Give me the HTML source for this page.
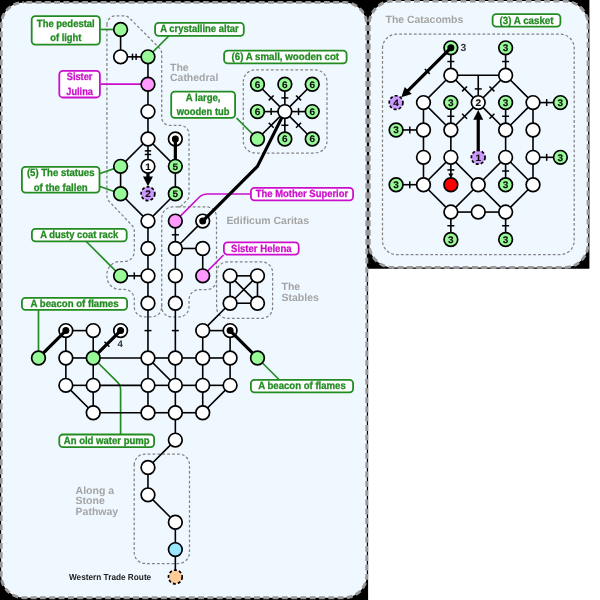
<!DOCTYPE html>
<html lang="en"><head><meta charset="utf-8"><title>Cathedral map</title>
<style>
html,body{margin:0;padding:0;background:#fff;}
body{width:600px;height:600px;overflow:hidden;}
svg{display:block;will-change:transform;}
</style></head><body>
<svg width="600" height="600" viewBox="0 0 600 600" text-rendering="geometricPrecision" font-family="'Liberation Sans', sans-serif">
<defs><filter id="soft" x="-5%" y="-5%" width="110%" height="110%"><feGaussianBlur stdDeviation="0.35"/></filter></defs>
<g filter="url(#soft)">
<rect x="-12" y="-12" width="624" height="624" fill="#fff"/>
<path d="M-12 -12H589.4V268.8H368.1V612H-12Z" fill="#000"/>
<rect x="1.15" y="2.4" width="365.65" height="595.3" rx="22.5" fill="#f0f8ff" stroke="#999999" stroke-width="2.9" stroke-dasharray="5.8 3.5" stroke-dashoffset="6.61"/>
<rect x="369.2" y="1.1" width="218.9" height="266.4" rx="23.5" fill="#f0f8ff" stroke="#999999" stroke-width="2.9" stroke-dasharray="5.8 3.5" stroke-dashoffset="6.56"/>
<path d="M106.9 24.8A9 9 0 0 1 115.9 15.8L123.89 15.8A8 8 0 0 1 129.54 18.14L159.36 47.96A8 8 0 0 1 161.7 53.61L161.7 117.3A8 8 0 0 0 169.7 125.3L180 125.3A9 9 0 0 1 189 134.3L189 195.98A5 5 0 0 1 187.6 199.45L181.68 205.58A4 4 0 0 1 178.8 206.8L173.2 206.8A11.5 11.5 0 0 0 161.7 218.3L161.7 306.9A10 10 0 0 1 151.7 316.9L144.3 316.9A10 10 0 0 1 134.3 306.9L134.3 299.4A10 10 0 0 0 124.3 289.4L119.9 289.4A13 13 0 0 1 106.9 276.4L106.9 274.5A13 13 0 0 1 119.9 261.5L124.3 261.5A10 10 0 0 0 134.3 251.5L134.3 231A8 8 0 0 0 132.1 225.48L109.1 201.32A8 8 0 0 1 106.9 195.8Z" fill="none" stroke="#828282" stroke-width="1.25" stroke-dasharray="2.8 2.1"/>
<path d="M178 206.8L206.5 206.8A10 10 0 0 1 216.5 216.8L216.5 279.7A10 10 0 0 1 206.5 289.7L199 289.7A10 10 0 0 0 189 299.7L189 306.9A10 10 0 0 1 179 316.9L171.7 316.9A10 10 0 0 1 161.7 306.9L161.7 304" fill="none" stroke="#828282" stroke-width="1.25" stroke-dasharray="2.8 2.1"/>
<path d="M243.3 81.8A12 12 0 0 1 255.3 69.8L315 69.8A12 12 0 0 1 327 81.8L327 141A12 12 0 0 1 315 153L255.3 153A12 12 0 0 1 243.3 141Z" fill="none" stroke="#828282" stroke-width="1.25" stroke-dasharray="2.8 2.1"/>
<path d="M216.6 272.8A11 11 0 0 1 227.6 261.8L261.6 261.8A11 11 0 0 1 272.6 272.8L272.6 307.4A11 11 0 0 1 261.6 318.4L227.6 318.4A11 11 0 0 1 216.6 307.4Z" fill="none" stroke="#828282" stroke-width="1.25" stroke-dasharray="2.8 2.1"/>
<path d="M134.2 465A11 11 0 0 1 145.2 454L178.5 454A11 11 0 0 1 189.5 465L189.5 552.5A11 11 0 0 1 178.5 563.5L145.2 563.5A11 11 0 0 1 134.2 552.5Z" fill="none" stroke="#828282" stroke-width="1.25" stroke-dasharray="2.8 2.1"/>
<path d="M382.5 48.2A14 14 0 0 1 396.5 34.2L560.2 34.2A14 14 0 0 1 574.2 48.2L574.2 240.6A14 14 0 0 1 560.2 254.6L396.5 254.6A14 14 0 0 1 382.5 240.6Z" fill="none" stroke="#828282" stroke-width="1.25" stroke-dasharray="2.8 2.1"/>
<text x="170" y="70.8" font-size="10.5" font-weight="bold" fill="#a4a4a4" text-anchor="start">The</text>
<text x="170" y="81.3" font-size="10.5" font-weight="bold" fill="#a4a4a4" text-anchor="start" textLength="48.3" lengthAdjust="spacingAndGlyphs">Cathedral</text>
<text x="226.4" y="223.6" font-size="10.5" font-weight="bold" fill="#a4a4a4" text-anchor="start" textLength="82.6" lengthAdjust="spacingAndGlyphs">Edificum Caritas</text>
<text x="281.5" y="290.2" font-size="10.5" font-weight="bold" fill="#a4a4a4" text-anchor="start">The</text>
<text x="281.5" y="300.9" font-size="10.5" font-weight="bold" fill="#a4a4a4" text-anchor="start">Stables</text>
<text x="75.6" y="493.6" font-size="10.5" font-weight="bold" fill="#a4a4a4" text-anchor="start">Along a</text>
<text x="75.6" y="504.4" font-size="10.5" font-weight="bold" fill="#a4a4a4" text-anchor="start">Stone</text>
<text x="75.6" y="515" font-size="10.5" font-weight="bold" fill="#a4a4a4" text-anchor="start">Pathway</text>
<text x="385.5" y="22.5" font-size="10.5" font-weight="bold" fill="#a4a4a4" text-anchor="start" textLength="77.8" lengthAdjust="spacingAndGlyphs">The Catacombs</text>
<path d="M100.8 29.48L120.6 29.48" fill="none" stroke="#228b22" stroke-width="1.7"/>
<path d="M100.8 84.22L147.97 84.22" fill="none" stroke="#cc11cc" stroke-width="1.7"/>
<path d="M168.82 36L147.97 56.85" fill="none" stroke="#228b22" stroke-width="1.7"/>
<path d="M236.5 118L257.48 138.97" fill="none" stroke="#228b22" stroke-width="1.7"/>
<path d="M100 173.5L120.6 166.35" fill="none" stroke="#228b22" stroke-width="1.7"/>
<path d="M100 186.5L120.6 193.72" fill="none" stroke="#228b22" stroke-width="1.7"/>
<path d="M86.25 241.5L120.6 275.85" fill="none" stroke="#228b22" stroke-width="1.7"/>
<path d="M38.48 310L38.48 357.98" fill="none" stroke="#228b22" stroke-width="1.7"/>
<path d="M93.22 357.98L117.96 382.71A9 9 0 0 1 120.6 389.08L120.6 434" fill="none" stroke="#228b22" stroke-width="1.7"/>
<path d="M251 194L207.42 194A12 12 0 0 0 198.94 197.51L175.35 221.1" fill="none" stroke="#cc11cc" stroke-width="1.7"/>
<path d="M223.58 255L202.72 275.85" fill="none" stroke="#cc11cc" stroke-width="1.7"/>
<path d="M279 379.5L257.48 357.98" fill="none" stroke="#228b22" stroke-width="1.7"/>
<line x1="120.6" y1="29.48" x2="120.6" y2="56.85" stroke="#000" stroke-width="1.6" stroke-linecap="butt"/>
<line x1="120.6" y1="56.85" x2="147.97" y2="56.85" stroke="#000" stroke-width="1.6" stroke-linecap="butt"/>
<line x1="132.49" y1="53.65" x2="132.49" y2="60.05" stroke="#000" stroke-width="1.5" stroke-linecap="butt"/>
<line x1="136.09" y1="53.65" x2="136.09" y2="60.05" stroke="#000" stroke-width="1.5" stroke-linecap="butt"/>
<line x1="147.97" y1="56.85" x2="147.97" y2="84.22" stroke="#000" stroke-width="1.6" stroke-linecap="butt"/>
<line x1="147.97" y1="84.22" x2="147.97" y2="111.6" stroke="#000" stroke-width="1.6" stroke-linecap="butt"/>
<line x1="147.97" y1="111.6" x2="147.97" y2="138.97" stroke="#000" stroke-width="1.6" stroke-linecap="butt"/>
<line x1="120.6" y1="166.35" x2="147.97" y2="138.97" stroke="#000" stroke-width="1.6" stroke-linecap="butt"/>
<line x1="147.97" y1="138.97" x2="175.35" y2="166.35" stroke="#000" stroke-width="1.6" stroke-linecap="butt"/>
<line x1="147.97" y1="138.97" x2="147.97" y2="166.35" stroke="#000" stroke-width="1.6" stroke-linecap="butt"/>
<line x1="151.17" y1="150.86" x2="144.78" y2="150.86" stroke="#000" stroke-width="1.5" stroke-linecap="butt"/>
<line x1="151.17" y1="154.46" x2="144.78" y2="154.46" stroke="#000" stroke-width="1.5" stroke-linecap="butt"/>
<line x1="120.6" y1="166.35" x2="120.6" y2="193.72" stroke="#000" stroke-width="1.6" stroke-linecap="butt"/>
<line x1="120.6" y1="193.72" x2="147.97" y2="221.1" stroke="#000" stroke-width="1.6" stroke-linecap="butt"/>
<line x1="147.97" y1="221.1" x2="175.35" y2="193.72" stroke="#000" stroke-width="1.6" stroke-linecap="butt"/>
<line x1="175.35" y1="193.72" x2="175.35" y2="166.35" stroke="#000" stroke-width="1.6" stroke-linecap="butt"/>
<line x1="147.97" y1="221.1" x2="147.97" y2="248.47" stroke="#000" stroke-width="1.6" stroke-linecap="butt"/>
<line x1="147.97" y1="248.47" x2="147.97" y2="275.85" stroke="#000" stroke-width="1.6" stroke-linecap="butt"/>
<line x1="147.97" y1="275.85" x2="147.97" y2="303.23" stroke="#000" stroke-width="1.6" stroke-linecap="butt"/>
<line x1="120.6" y1="275.85" x2="147.97" y2="275.85" stroke="#000" stroke-width="1.6" stroke-linecap="butt"/>
<line x1="134.29" y1="272.35" x2="134.29" y2="279.35" stroke="#000" stroke-width="1.5" stroke-linecap="butt"/>
<line x1="147.97" y1="303.23" x2="147.97" y2="357.98" stroke="#000" stroke-width="1.6" stroke-linecap="butt"/>
<line x1="151.47" y1="330.6" x2="144.47" y2="330.6" stroke="#000" stroke-width="1.5" stroke-linecap="butt"/>
<line x1="175.35" y1="221.1" x2="175.35" y2="248.47" stroke="#000" stroke-width="1.6" stroke-linecap="butt"/>
<line x1="178.85" y1="234.79" x2="171.85" y2="234.79" stroke="#000" stroke-width="1.5" stroke-linecap="butt"/>
<line x1="202.72" y1="221.1" x2="175.35" y2="248.47" stroke="#000" stroke-width="1.6" stroke-linecap="butt"/>
<line x1="175.35" y1="248.47" x2="202.72" y2="248.47" stroke="#000" stroke-width="1.6" stroke-linecap="butt"/>
<line x1="202.72" y1="248.47" x2="202.72" y2="275.85" stroke="#000" stroke-width="1.6" stroke-linecap="butt"/>
<line x1="175.35" y1="248.47" x2="175.35" y2="275.85" stroke="#000" stroke-width="1.6" stroke-linecap="butt"/>
<line x1="175.35" y1="275.85" x2="175.35" y2="303.23" stroke="#000" stroke-width="1.6" stroke-linecap="butt"/>
<line x1="175.35" y1="303.23" x2="175.35" y2="357.98" stroke="#000" stroke-width="1.6" stroke-linecap="butt"/>
<line x1="178.85" y1="330.6" x2="171.85" y2="330.6" stroke="#000" stroke-width="1.5" stroke-linecap="butt"/>
<line x1="284.85" y1="111.6" x2="257.48" y2="84.22" stroke="#000" stroke-width="1.6" stroke-linecap="butt"/>
<line x1="268.69" y1="100.39" x2="273.64" y2="95.44" stroke="#000" stroke-width="1.5" stroke-linecap="butt"/>
<line x1="284.85" y1="111.6" x2="284.85" y2="84.22" stroke="#000" stroke-width="1.6" stroke-linecap="butt"/>
<line x1="281.35" y1="97.91" x2="288.35" y2="97.91" stroke="#000" stroke-width="1.5" stroke-linecap="butt"/>
<line x1="284.85" y1="111.6" x2="312.23" y2="84.22" stroke="#000" stroke-width="1.6" stroke-linecap="butt"/>
<line x1="296.06" y1="95.44" x2="301.01" y2="100.39" stroke="#000" stroke-width="1.5" stroke-linecap="butt"/>
<line x1="284.85" y1="111.6" x2="257.48" y2="111.6" stroke="#000" stroke-width="1.6" stroke-linecap="butt"/>
<line x1="271.16" y1="115.1" x2="271.16" y2="108.1" stroke="#000" stroke-width="1.5" stroke-linecap="butt"/>
<line x1="284.85" y1="111.6" x2="312.23" y2="111.6" stroke="#000" stroke-width="1.6" stroke-linecap="butt"/>
<line x1="298.54" y1="108.1" x2="298.54" y2="115.1" stroke="#000" stroke-width="1.5" stroke-linecap="butt"/>
<line x1="284.85" y1="111.6" x2="257.48" y2="138.97" stroke="#000" stroke-width="1.6" stroke-linecap="butt"/>
<line x1="273.64" y1="127.76" x2="268.69" y2="122.81" stroke="#000" stroke-width="1.5" stroke-linecap="butt"/>
<line x1="284.85" y1="111.6" x2="284.85" y2="138.97" stroke="#000" stroke-width="1.6" stroke-linecap="butt"/>
<line x1="288.35" y1="125.29" x2="281.35" y2="125.29" stroke="#000" stroke-width="1.5" stroke-linecap="butt"/>
<line x1="284.85" y1="111.6" x2="312.23" y2="138.97" stroke="#000" stroke-width="1.6" stroke-linecap="butt"/>
<line x1="301.01" y1="122.81" x2="296.06" y2="127.76" stroke="#000" stroke-width="1.5" stroke-linecap="butt"/>
<line x1="230.1" y1="275.85" x2="257.48" y2="275.85" stroke="#000" stroke-width="1.6" stroke-linecap="butt"/>
<line x1="257.48" y1="275.85" x2="257.48" y2="303.23" stroke="#000" stroke-width="1.6" stroke-linecap="butt"/>
<line x1="257.48" y1="303.23" x2="230.1" y2="303.23" stroke="#000" stroke-width="1.6" stroke-linecap="butt"/>
<line x1="230.1" y1="303.23" x2="230.1" y2="275.85" stroke="#000" stroke-width="1.6" stroke-linecap="butt"/>
<line x1="230.1" y1="275.85" x2="257.48" y2="303.23" stroke="#000" stroke-width="1.6" stroke-linecap="butt"/>
<line x1="257.48" y1="275.85" x2="230.1" y2="303.23" stroke="#000" stroke-width="1.6" stroke-linecap="butt"/>
<line x1="230.1" y1="303.23" x2="202.72" y2="330.6" stroke="#000" stroke-width="1.6" stroke-linecap="butt"/>
<line x1="65.85" y1="330.6" x2="93.22" y2="330.6" stroke="#000" stroke-width="1.6" stroke-linecap="butt"/>
<line x1="93.22" y1="330.6" x2="93.22" y2="357.98" stroke="#000" stroke-width="1.6" stroke-linecap="butt"/>
<line x1="93.22" y1="357.98" x2="93.22" y2="385.35" stroke="#000" stroke-width="1.6" stroke-linecap="butt"/>
<line x1="93.22" y1="385.35" x2="93.22" y2="412.73" stroke="#000" stroke-width="1.6" stroke-linecap="butt"/>
<line x1="93.22" y1="412.73" x2="147.97" y2="412.73" stroke="#000" stroke-width="1.6" stroke-linecap="butt"/>
<line x1="147.97" y1="412.73" x2="175.35" y2="412.73" stroke="#000" stroke-width="1.6" stroke-linecap="butt"/>
<line x1="175.35" y1="412.73" x2="202.72" y2="412.73" stroke="#000" stroke-width="1.6" stroke-linecap="butt"/>
<line x1="65.85" y1="330.6" x2="65.85" y2="357.98" stroke="#000" stroke-width="1.6" stroke-linecap="butt"/>
<line x1="65.85" y1="357.98" x2="65.85" y2="385.35" stroke="#000" stroke-width="1.6" stroke-linecap="butt"/>
<line x1="65.85" y1="385.35" x2="93.22" y2="412.73" stroke="#000" stroke-width="1.6" stroke-linecap="butt"/>
<line x1="65.85" y1="357.98" x2="93.22" y2="357.98" stroke="#000" stroke-width="1.6" stroke-linecap="butt"/>
<line x1="93.22" y1="357.98" x2="147.97" y2="357.98" stroke="#000" stroke-width="1.6" stroke-linecap="butt"/>
<line x1="147.97" y1="357.98" x2="175.35" y2="357.98" stroke="#000" stroke-width="1.6" stroke-linecap="butt"/>
<line x1="175.35" y1="357.98" x2="202.72" y2="357.98" stroke="#000" stroke-width="1.6" stroke-linecap="butt"/>
<line x1="202.72" y1="357.98" x2="230.1" y2="357.98" stroke="#000" stroke-width="1.6" stroke-linecap="butt"/>
<line x1="65.85" y1="385.35" x2="93.22" y2="385.35" stroke="#000" stroke-width="1.6" stroke-linecap="butt"/>
<line x1="93.22" y1="385.35" x2="147.97" y2="385.35" stroke="#000" stroke-width="1.6" stroke-linecap="butt"/>
<line x1="147.97" y1="385.35" x2="175.35" y2="385.35" stroke="#000" stroke-width="1.6" stroke-linecap="butt"/>
<line x1="175.35" y1="385.35" x2="202.72" y2="385.35" stroke="#000" stroke-width="1.6" stroke-linecap="butt"/>
<line x1="202.72" y1="385.35" x2="230.1" y2="385.35" stroke="#000" stroke-width="1.6" stroke-linecap="butt"/>
<line x1="147.97" y1="357.98" x2="147.97" y2="385.35" stroke="#000" stroke-width="1.6" stroke-linecap="butt"/>
<line x1="147.97" y1="385.35" x2="147.97" y2="412.73" stroke="#000" stroke-width="1.6" stroke-linecap="butt"/>
<line x1="175.35" y1="357.98" x2="175.35" y2="385.35" stroke="#000" stroke-width="1.6" stroke-linecap="butt"/>
<line x1="175.35" y1="385.35" x2="175.35" y2="412.73" stroke="#000" stroke-width="1.6" stroke-linecap="butt"/>
<line x1="175.35" y1="412.73" x2="175.35" y2="440.1" stroke="#000" stroke-width="1.6" stroke-linecap="butt"/>
<line x1="175.35" y1="440.1" x2="147.97" y2="467.48" stroke="#000" stroke-width="1.6" stroke-linecap="butt"/>
<line x1="147.97" y1="467.48" x2="147.97" y2="494.85" stroke="#000" stroke-width="1.6" stroke-linecap="butt"/>
<line x1="147.97" y1="494.85" x2="175.35" y2="522.23" stroke="#000" stroke-width="1.6" stroke-linecap="butt"/>
<line x1="175.35" y1="522.23" x2="175.35" y2="549.6" stroke="#000" stroke-width="1.6" stroke-linecap="butt"/>
<line x1="175.35" y1="549.6" x2="175.35" y2="576.98" stroke="#000" stroke-width="1.6" stroke-linecap="butt"/>
<line x1="202.72" y1="330.6" x2="202.72" y2="357.98" stroke="#000" stroke-width="1.6" stroke-linecap="butt"/>
<line x1="202.72" y1="357.98" x2="202.72" y2="385.35" stroke="#000" stroke-width="1.6" stroke-linecap="butt"/>
<line x1="202.72" y1="385.35" x2="202.72" y2="412.73" stroke="#000" stroke-width="1.6" stroke-linecap="butt"/>
<line x1="202.72" y1="330.6" x2="230.1" y2="330.6" stroke="#000" stroke-width="1.6" stroke-linecap="butt"/>
<line x1="230.1" y1="330.6" x2="230.1" y2="357.98" stroke="#000" stroke-width="1.6" stroke-linecap="butt"/>
<line x1="230.1" y1="357.98" x2="230.1" y2="385.35" stroke="#000" stroke-width="1.6" stroke-linecap="butt"/>
<line x1="230.1" y1="385.35" x2="202.72" y2="412.73" stroke="#000" stroke-width="1.6" stroke-linecap="butt"/>
<line x1="147.97" y1="357.98" x2="175.35" y2="385.35" stroke="#000" stroke-width="1.6" stroke-linecap="butt"/>
<line x1="175.35" y1="138.97" x2="175.35" y2="166.35" stroke="#000" stroke-width="3.2" stroke-linecap="butt"/>
<line x1="38.48" y1="357.98" x2="65.85" y2="330.6" stroke="#000" stroke-width="3.2" stroke-linecap="butt"/>
<line x1="93.22" y1="357.98" x2="120.6" y2="330.6" stroke="#000" stroke-width="3.2" stroke-linecap="butt"/>
<line x1="104.44" y1="341.81" x2="109.39" y2="346.76" stroke="#000" stroke-width="1.5" stroke-linecap="butt"/>
<line x1="230.1" y1="330.6" x2="257.48" y2="357.98" stroke="#000" stroke-width="3.2" stroke-linecap="butt"/>
<path d="M202.72 221.1L257.13 166.69A3 3 0 0 0 257.69 165.91L284.85 111.6" fill="none" stroke="#000" stroke-width="3.2"/>
<line x1="147.97" y1="166.35" x2="147.97" y2="177.52" stroke="#000" stroke-width="3.2" stroke-linecap="butt"/>
<polygon points="147.97,186.32 142.97,176.52 152.97,176.52" fill="#000"/>
<circle cx="120.6" cy="29.48" r="6.85" fill="#98fb98" stroke="#000" stroke-width="1.7"/>
<circle cx="147.97" cy="56.85" r="6.85" fill="#98fb98" stroke="#000" stroke-width="1.7"/>
<circle cx="120.6" cy="166.35" r="6.85" fill="#98fb98" stroke="#000" stroke-width="1.7"/>
<circle cx="120.6" cy="193.72" r="6.85" fill="#98fb98" stroke="#000" stroke-width="1.7"/>
<circle cx="120.6" cy="275.85" r="6.85" fill="#98fb98" stroke="#000" stroke-width="1.7"/>
<circle cx="38.48" cy="357.98" r="6.85" fill="#98fb98" stroke="#000" stroke-width="1.7"/>
<circle cx="93.22" cy="357.98" r="6.85" fill="#98fb98" stroke="#000" stroke-width="1.7"/>
<circle cx="257.48" cy="357.98" r="6.85" fill="#98fb98" stroke="#000" stroke-width="1.7"/>
<circle cx="257.48" cy="138.97" r="6.85" fill="#98fb98" stroke="#000" stroke-width="1.7"/>
<circle cx="175.35" cy="166.35" r="6.85" fill="#98fb98" stroke="#000" stroke-width="1.7"/>
<text transform="translate(175.35 169.7) scale(1.06 1)" font-size="9.5" font-weight="bold" fill="#111" stroke="#111" stroke-width="0.15" text-anchor="middle">5</text>
<circle cx="175.35" cy="193.72" r="6.85" fill="#98fb98" stroke="#000" stroke-width="1.7"/>
<text transform="translate(175.35 197.07) scale(1.06 1)" font-size="9.5" font-weight="bold" fill="#111" stroke="#111" stroke-width="0.15" text-anchor="middle">5</text>
<circle cx="257.48" cy="84.22" r="6.85" fill="#98fb98" stroke="#000" stroke-width="1.7"/>
<text transform="translate(257.48 87.57) scale(1.06 1)" font-size="9.5" font-weight="bold" fill="#111" stroke="#111" stroke-width="0.15" text-anchor="middle">6</text>
<circle cx="284.85" cy="84.22" r="6.85" fill="#98fb98" stroke="#000" stroke-width="1.7"/>
<text transform="translate(284.85 87.57) scale(1.06 1)" font-size="9.5" font-weight="bold" fill="#111" stroke="#111" stroke-width="0.15" text-anchor="middle">6</text>
<circle cx="312.23" cy="84.22" r="6.85" fill="#98fb98" stroke="#000" stroke-width="1.7"/>
<text transform="translate(312.23 87.57) scale(1.06 1)" font-size="9.5" font-weight="bold" fill="#111" stroke="#111" stroke-width="0.15" text-anchor="middle">6</text>
<circle cx="257.48" cy="111.6" r="6.85" fill="#98fb98" stroke="#000" stroke-width="1.7"/>
<text transform="translate(257.48 114.95) scale(1.06 1)" font-size="9.5" font-weight="bold" fill="#111" stroke="#111" stroke-width="0.15" text-anchor="middle">6</text>
<circle cx="312.23" cy="111.6" r="6.85" fill="#98fb98" stroke="#000" stroke-width="1.7"/>
<text transform="translate(312.23 114.95) scale(1.06 1)" font-size="9.5" font-weight="bold" fill="#111" stroke="#111" stroke-width="0.15" text-anchor="middle">6</text>
<circle cx="284.85" cy="138.97" r="6.85" fill="#98fb98" stroke="#000" stroke-width="1.7"/>
<text transform="translate(284.85 142.32) scale(1.06 1)" font-size="9.5" font-weight="bold" fill="#111" stroke="#111" stroke-width="0.15" text-anchor="middle">6</text>
<circle cx="312.23" cy="138.97" r="6.85" fill="#98fb98" stroke="#000" stroke-width="1.7"/>
<text transform="translate(312.23 142.32) scale(1.06 1)" font-size="9.5" font-weight="bold" fill="#111" stroke="#111" stroke-width="0.15" text-anchor="middle">6</text>
<circle cx="147.97" cy="84.22" r="6.85" fill="#ff99ff" stroke="#000" stroke-width="1.7"/>
<circle cx="175.35" cy="221.1" r="6.85" fill="#ff99ff" stroke="#000" stroke-width="1.7"/>
<circle cx="202.72" cy="275.85" r="6.85" fill="#ff99ff" stroke="#000" stroke-width="1.7"/>
<circle cx="120.6" cy="56.85" r="6.85" fill="#fff" stroke="#000" stroke-width="1.7"/>
<circle cx="147.97" cy="111.6" r="6.85" fill="#fff" stroke="#000" stroke-width="1.7"/>
<circle cx="147.97" cy="138.97" r="6.85" fill="#fff" stroke="#000" stroke-width="1.7"/>
<circle cx="147.97" cy="221.1" r="6.85" fill="#fff" stroke="#000" stroke-width="1.7"/>
<circle cx="147.97" cy="248.47" r="6.85" fill="#fff" stroke="#000" stroke-width="1.7"/>
<circle cx="147.97" cy="275.85" r="6.85" fill="#fff" stroke="#000" stroke-width="1.7"/>
<circle cx="147.97" cy="303.23" r="6.85" fill="#fff" stroke="#000" stroke-width="1.7"/>
<circle cx="175.35" cy="248.47" r="6.85" fill="#fff" stroke="#000" stroke-width="1.7"/>
<circle cx="202.72" cy="248.47" r="6.85" fill="#fff" stroke="#000" stroke-width="1.7"/>
<circle cx="175.35" cy="275.85" r="6.85" fill="#fff" stroke="#000" stroke-width="1.7"/>
<circle cx="175.35" cy="303.23" r="6.85" fill="#fff" stroke="#000" stroke-width="1.7"/>
<circle cx="284.85" cy="111.6" r="6.85" fill="#fff" stroke="#000" stroke-width="1.7"/>
<circle cx="230.1" cy="275.85" r="6.85" fill="#fff" stroke="#000" stroke-width="1.7"/>
<circle cx="257.48" cy="275.85" r="6.85" fill="#fff" stroke="#000" stroke-width="1.7"/>
<circle cx="230.1" cy="303.23" r="6.85" fill="#fff" stroke="#000" stroke-width="1.7"/>
<circle cx="257.48" cy="303.23" r="6.85" fill="#fff" stroke="#000" stroke-width="1.7"/>
<circle cx="93.22" cy="330.6" r="6.85" fill="#fff" stroke="#000" stroke-width="1.7"/>
<circle cx="65.85" cy="357.98" r="6.85" fill="#fff" stroke="#000" stroke-width="1.7"/>
<circle cx="65.85" cy="385.35" r="6.85" fill="#fff" stroke="#000" stroke-width="1.7"/>
<circle cx="93.22" cy="385.35" r="6.85" fill="#fff" stroke="#000" stroke-width="1.7"/>
<circle cx="93.22" cy="412.73" r="6.85" fill="#fff" stroke="#000" stroke-width="1.7"/>
<circle cx="147.97" cy="357.98" r="6.85" fill="#fff" stroke="#000" stroke-width="1.7"/>
<circle cx="147.97" cy="385.35" r="6.85" fill="#fff" stroke="#000" stroke-width="1.7"/>
<circle cx="147.97" cy="412.73" r="6.85" fill="#fff" stroke="#000" stroke-width="1.7"/>
<circle cx="175.35" cy="357.98" r="6.85" fill="#fff" stroke="#000" stroke-width="1.7"/>
<circle cx="175.35" cy="385.35" r="6.85" fill="#fff" stroke="#000" stroke-width="1.7"/>
<circle cx="175.35" cy="412.73" r="6.85" fill="#fff" stroke="#000" stroke-width="1.7"/>
<circle cx="175.35" cy="440.1" r="6.85" fill="#fff" stroke="#000" stroke-width="1.7"/>
<circle cx="202.72" cy="330.6" r="6.85" fill="#fff" stroke="#000" stroke-width="1.7"/>
<circle cx="202.72" cy="357.98" r="6.85" fill="#fff" stroke="#000" stroke-width="1.7"/>
<circle cx="202.72" cy="385.35" r="6.85" fill="#fff" stroke="#000" stroke-width="1.7"/>
<circle cx="202.72" cy="412.73" r="6.85" fill="#fff" stroke="#000" stroke-width="1.7"/>
<circle cx="230.1" cy="357.98" r="6.85" fill="#fff" stroke="#000" stroke-width="1.7"/>
<circle cx="230.1" cy="385.35" r="6.85" fill="#fff" stroke="#000" stroke-width="1.7"/>
<circle cx="147.97" cy="467.48" r="6.85" fill="#fff" stroke="#000" stroke-width="1.7"/>
<circle cx="147.97" cy="494.85" r="6.85" fill="#fff" stroke="#000" stroke-width="1.7"/>
<circle cx="175.35" cy="522.23" r="6.85" fill="#fff" stroke="#000" stroke-width="1.7"/>
<circle cx="147.97" cy="166.35" r="6.85" fill="#fff" stroke="#000" stroke-width="1.7"/>
<text transform="translate(147.97 169.7) scale(1.06 1)" font-size="9.5" font-weight="bold" fill="#111" stroke="#111" stroke-width="0.15" text-anchor="middle">1</text>
<circle cx="175.35" cy="138.97" r="6.85" fill="#fff" stroke="#000" stroke-width="1.7"/>
<circle cx="175.35" cy="138.97" r="3.5" fill="#000"/>
<circle cx="202.72" cy="221.1" r="6.85" fill="#fff" stroke="#000" stroke-width="1.7"/>
<circle cx="202.72" cy="221.1" r="3.5" fill="#000"/>
<circle cx="65.85" cy="330.6" r="6.85" fill="#fff" stroke="#000" stroke-width="1.7"/>
<circle cx="65.85" cy="330.6" r="3.5" fill="#000"/>
<circle cx="120.6" cy="330.6" r="6.85" fill="#fff" stroke="#000" stroke-width="1.7"/>
<circle cx="120.6" cy="330.6" r="3.5" fill="#000"/>
<circle cx="230.1" cy="330.6" r="6.85" fill="#fff" stroke="#000" stroke-width="1.7"/>
<circle cx="230.1" cy="330.6" r="3.5" fill="#000"/>
<line x1="175.35" y1="138.97" x2="175.35" y2="146.97" stroke="#000" stroke-width="3.2" stroke-linecap="butt"/>
<line x1="65.85" y1="330.6" x2="60.19" y2="336.26" stroke="#000" stroke-width="3.2" stroke-linecap="butt"/>
<line x1="120.6" y1="330.6" x2="114.94" y2="336.26" stroke="#000" stroke-width="3.2" stroke-linecap="butt"/>
<line x1="230.1" y1="330.6" x2="235.76" y2="336.26" stroke="#000" stroke-width="3.2" stroke-linecap="butt"/>
<line x1="202.72" y1="221.1" x2="208.38" y2="215.44" stroke="#000" stroke-width="3.2" stroke-linecap="butt"/>
<circle cx="147.97" cy="193.72" r="6.85" fill="#cc99ff" stroke="#000" stroke-width="1.7" stroke-dasharray="3 2.1"/>
<text transform="translate(147.97 197.07) scale(1.06 1)" font-size="9.5" font-weight="bold" fill="#111" stroke="#111" stroke-width="0.15" text-anchor="middle">2</text>
<circle cx="175.35" cy="549.6" r="6.85" fill="#99e6ff" stroke="#000" stroke-width="1.7"/>
<circle cx="175.35" cy="576.98" r="6.85" fill="#ffcc99" stroke="#000" stroke-width="1.7" stroke-dasharray="3 2.1"/>
<text x="120.1" y="347.3" font-size="9.6" font-weight="bold" fill="#333" text-anchor="middle">4</text>
<text x="151.2" y="579.8" font-size="8.8" font-weight="bold" fill="#222" text-anchor="end" textLength="82.2" lengthAdjust="spacingAndGlyphs">Western Trade Route</text>
<rect x="31.7" y="16.2" width="68.2" height="28.4" rx="3.6" fill="#fff" stroke="#228b22" stroke-width="1.8"/>
<text x="65.8" y="26.8" font-size="10.4" font-weight="bold" fill="#228b22" stroke="#228b22" stroke-width="0.3" text-anchor="middle" textLength="57.9" lengthAdjust="spacingAndGlyphs">The pedestal</text>
<text x="65.8" y="40.9" font-size="10.4" font-weight="bold" fill="#228b22" stroke="#228b22" stroke-width="0.3" text-anchor="middle" textLength="31.2" lengthAdjust="spacingAndGlyphs">of light</text>
<rect x="59.3" y="70.9" width="40.6" height="26.6" rx="3.6" fill="#fff" stroke="#cc11cc" stroke-width="1.8"/>
<text x="79.6" y="80.3" font-size="10.4" font-weight="bold" fill="#cc11cc" stroke="#cc11cc" stroke-width="0.3" text-anchor="middle" textLength="25.8" lengthAdjust="spacingAndGlyphs">Sister</text>
<text x="79.6" y="94.5" font-size="10.4" font-weight="bold" fill="#cc11cc" stroke="#cc11cc" stroke-width="0.3" text-anchor="middle" textLength="26.7" lengthAdjust="spacingAndGlyphs">Julina</text>
<rect x="155.1" y="22.9" width="88.7" height="12.9" rx="3.6" fill="#fff" stroke="#228b22" stroke-width="1.8"/>
<text x="199.45" y="32.25" font-size="10.4" font-weight="bold" fill="#228b22" stroke="#228b22" stroke-width="0.3" text-anchor="middle" textLength="78.6" lengthAdjust="spacingAndGlyphs">A crystalline altar</text>
<rect x="171.2" y="91.7" width="63.9" height="26.1" rx="3.6" fill="#fff" stroke="#228b22" stroke-width="1.8"/>
<text x="203.15" y="100.8" font-size="10.4" font-weight="bold" fill="#228b22" stroke="#228b22" stroke-width="0.3" text-anchor="middle" textLength="34.7" lengthAdjust="spacingAndGlyphs">A large,</text>
<text x="203.15" y="115.2" font-size="10.4" font-weight="bold" fill="#228b22" stroke="#228b22" stroke-width="0.3" text-anchor="middle" textLength="52.7" lengthAdjust="spacingAndGlyphs">wooden tub</text>
<rect x="224.1" y="50.6" width="122.5" height="12.7" rx="3.6" fill="#fff" stroke="#228b22" stroke-width="1.8"/>
<text x="285.35" y="59.95" font-size="10.4" font-weight="bold" fill="#228b22" stroke="#228b22" stroke-width="0.3" text-anchor="middle" textLength="107.5" lengthAdjust="spacingAndGlyphs">(6) A small, wooden cot</text>
<rect x="21.9" y="166.9" width="77.6" height="25.8" rx="3.6" fill="#fff" stroke="#228b22" stroke-width="1.8"/>
<text x="60.7" y="176.4" font-size="10.4" font-weight="bold" fill="#228b22" stroke="#228b22" stroke-width="0.3" text-anchor="middle" textLength="67.6" lengthAdjust="spacingAndGlyphs">(5) The statues</text>
<text x="60.7" y="190.6" font-size="10.4" font-weight="bold" fill="#228b22" stroke="#228b22" stroke-width="0.3" text-anchor="middle" textLength="54" lengthAdjust="spacingAndGlyphs">of the fallen</text>
<rect x="31.9" y="228.9" width="94.8" height="12.4" rx="3.6" fill="#fff" stroke="#228b22" stroke-width="1.8"/>
<text x="79.3" y="238.25" font-size="10.4" font-weight="bold" fill="#228b22" stroke="#228b22" stroke-width="0.3" text-anchor="middle" textLength="78" lengthAdjust="spacingAndGlyphs">A dusty coat rack</text>
<rect x="21.9" y="297.9" width="105.2" height="12" rx="3.6" fill="#fff" stroke="#228b22" stroke-width="1.8"/>
<text x="74.5" y="307.25" font-size="10.4" font-weight="bold" fill="#228b22" stroke="#228b22" stroke-width="0.3" text-anchor="middle" textLength="88" lengthAdjust="spacingAndGlyphs">A beacon of flames</text>
<rect x="59.3" y="434.5" width="94.8" height="12.6" rx="3.6" fill="#fff" stroke="#228b22" stroke-width="1.8"/>
<text x="106.7" y="443.85" font-size="10.4" font-weight="bold" fill="#228b22" stroke="#228b22" stroke-width="0.3" text-anchor="middle" textLength="85.8" lengthAdjust="spacingAndGlyphs">An old water pump</text>
<rect x="250.9" y="187.9" width="102.2" height="12.4" rx="3.6" fill="#fff" stroke="#cc11cc" stroke-width="1.8"/>
<text x="302" y="197.25" font-size="10.4" font-weight="bold" fill="#cc11cc" stroke="#cc11cc" stroke-width="0.3" text-anchor="middle" textLength="92.4" lengthAdjust="spacingAndGlyphs">The Mother Superior</text>
<rect x="223.9" y="242.3" width="74.8" height="12.4" rx="3.6" fill="#fff" stroke="#cc11cc" stroke-width="1.8"/>
<text x="261.3" y="251.65" font-size="10.4" font-weight="bold" fill="#cc11cc" stroke="#cc11cc" stroke-width="0.3" text-anchor="middle" textLength="60.6" lengthAdjust="spacingAndGlyphs">Sister Helena</text>
<rect x="250.9" y="379.9" width="102.2" height="12.4" rx="3.6" fill="#fff" stroke="#228b22" stroke-width="1.8"/>
<text x="302" y="389.25" font-size="10.4" font-weight="bold" fill="#228b22" stroke="#228b22" stroke-width="0.3" text-anchor="middle" textLength="87.5" lengthAdjust="spacingAndGlyphs">A beacon of flames</text>
<line x1="450.86" y1="47.85" x2="450.86" y2="75.22" stroke="#000" stroke-width="1.6" stroke-linecap="butt"/>
<line x1="454.36" y1="61.53" x2="447.36" y2="61.53" stroke="#000" stroke-width="1.5" stroke-linecap="butt"/>
<line x1="505.62" y1="47.85" x2="505.62" y2="75.22" stroke="#000" stroke-width="1.6" stroke-linecap="butt"/>
<line x1="509.12" y1="61.53" x2="502.12" y2="61.53" stroke="#000" stroke-width="1.5" stroke-linecap="butt"/>
<line x1="450.86" y1="75.22" x2="505.62" y2="75.22" stroke="#000" stroke-width="1.6" stroke-linecap="butt"/>
<line x1="478.24" y1="75.22" x2="478.24" y2="102.59" stroke="#000" stroke-width="1.6" stroke-linecap="butt"/>
<line x1="481.74" y1="88.91" x2="474.74" y2="88.91" stroke="#000" stroke-width="1.5" stroke-linecap="butt"/>
<line x1="423.48" y1="102.59" x2="450.86" y2="75.22" stroke="#000" stroke-width="1.6" stroke-linecap="butt"/>
<line x1="505.62" y1="75.22" x2="533" y2="102.59" stroke="#000" stroke-width="1.6" stroke-linecap="butt"/>
<line x1="450.86" y1="75.22" x2="478.24" y2="102.59" stroke="#000" stroke-width="1.6" stroke-linecap="butt"/>
<line x1="467.02" y1="86.43" x2="462.08" y2="91.38" stroke="#000" stroke-width="1.5" stroke-linecap="butt"/>
<line x1="505.62" y1="75.22" x2="478.24" y2="102.59" stroke="#000" stroke-width="1.6" stroke-linecap="butt"/>
<line x1="494.4" y1="91.38" x2="489.46" y2="86.43" stroke="#000" stroke-width="1.5" stroke-linecap="butt"/>
<line x1="423.48" y1="102.59" x2="450.86" y2="129.96" stroke="#000" stroke-width="1.6" stroke-linecap="butt"/>
<line x1="533" y1="102.59" x2="505.62" y2="129.96" stroke="#000" stroke-width="1.6" stroke-linecap="butt"/>
<line x1="478.24" y1="102.59" x2="450.86" y2="129.96" stroke="#000" stroke-width="1.6" stroke-linecap="butt"/>
<line x1="467.02" y1="118.75" x2="462.08" y2="113.8" stroke="#000" stroke-width="1.5" stroke-linecap="butt"/>
<line x1="478.24" y1="102.59" x2="505.62" y2="129.96" stroke="#000" stroke-width="1.6" stroke-linecap="butt"/>
<line x1="494.4" y1="113.8" x2="489.46" y2="118.75" stroke="#000" stroke-width="1.5" stroke-linecap="butt"/>
<line x1="450.86" y1="102.59" x2="450.86" y2="129.96" stroke="#000" stroke-width="1.6" stroke-linecap="butt"/>
<line x1="454.36" y1="116.28" x2="447.36" y2="116.28" stroke="#000" stroke-width="1.5" stroke-linecap="butt"/>
<line x1="505.62" y1="102.59" x2="505.62" y2="129.96" stroke="#000" stroke-width="1.6" stroke-linecap="butt"/>
<line x1="509.12" y1="116.28" x2="502.12" y2="116.28" stroke="#000" stroke-width="1.5" stroke-linecap="butt"/>
<line x1="423.48" y1="102.59" x2="423.48" y2="129.96" stroke="#000" stroke-width="1.6" stroke-linecap="butt"/>
<line x1="423.48" y1="129.96" x2="423.48" y2="157.33" stroke="#000" stroke-width="1.6" stroke-linecap="butt"/>
<line x1="423.48" y1="157.33" x2="423.48" y2="184.7" stroke="#000" stroke-width="1.6" stroke-linecap="butt"/>
<line x1="533" y1="102.59" x2="533" y2="129.96" stroke="#000" stroke-width="1.6" stroke-linecap="butt"/>
<line x1="533" y1="129.96" x2="533" y2="157.33" stroke="#000" stroke-width="1.6" stroke-linecap="butt"/>
<line x1="533" y1="157.33" x2="533" y2="184.7" stroke="#000" stroke-width="1.6" stroke-linecap="butt"/>
<line x1="450.86" y1="129.96" x2="450.86" y2="157.33" stroke="#000" stroke-width="1.6" stroke-linecap="butt"/>
<line x1="505.62" y1="129.96" x2="505.62" y2="157.33" stroke="#000" stroke-width="1.6" stroke-linecap="butt"/>
<line x1="396.1" y1="129.96" x2="423.48" y2="129.96" stroke="#000" stroke-width="1.6" stroke-linecap="butt"/>
<line x1="409.79" y1="126.46" x2="409.79" y2="133.46" stroke="#000" stroke-width="1.5" stroke-linecap="butt"/>
<line x1="533" y1="102.59" x2="560.38" y2="102.59" stroke="#000" stroke-width="1.6" stroke-linecap="butt"/>
<line x1="546.69" y1="99.09" x2="546.69" y2="106.09" stroke="#000" stroke-width="1.5" stroke-linecap="butt"/>
<line x1="533" y1="157.33" x2="560.38" y2="157.33" stroke="#000" stroke-width="1.6" stroke-linecap="butt"/>
<line x1="546.69" y1="153.83" x2="546.69" y2="160.83" stroke="#000" stroke-width="1.5" stroke-linecap="butt"/>
<line x1="396.1" y1="184.7" x2="423.48" y2="184.7" stroke="#000" stroke-width="1.6" stroke-linecap="butt"/>
<line x1="409.79" y1="181.2" x2="409.79" y2="188.2" stroke="#000" stroke-width="1.5" stroke-linecap="butt"/>
<line x1="423.48" y1="184.7" x2="450.86" y2="157.33" stroke="#000" stroke-width="1.6" stroke-linecap="butt"/>
<line x1="450.86" y1="157.33" x2="478.24" y2="184.7" stroke="#000" stroke-width="1.6" stroke-linecap="butt"/>
<line x1="478.24" y1="184.7" x2="505.62" y2="157.33" stroke="#000" stroke-width="1.6" stroke-linecap="butt"/>
<line x1="505.62" y1="157.33" x2="533" y2="184.7" stroke="#000" stroke-width="1.6" stroke-linecap="butt"/>
<line x1="505.62" y1="157.33" x2="505.62" y2="184.7" stroke="#000" stroke-width="1.6" stroke-linecap="butt"/>
<line x1="509.12" y1="171.01" x2="502.12" y2="171.01" stroke="#000" stroke-width="1.5" stroke-linecap="butt"/>
<line x1="423.48" y1="184.7" x2="450.86" y2="212.07" stroke="#000" stroke-width="1.6" stroke-linecap="butt"/>
<line x1="450.86" y1="212.07" x2="478.24" y2="184.7" stroke="#000" stroke-width="1.6" stroke-linecap="butt"/>
<line x1="478.24" y1="184.7" x2="505.62" y2="212.07" stroke="#000" stroke-width="1.6" stroke-linecap="butt"/>
<line x1="505.62" y1="212.07" x2="533" y2="184.7" stroke="#000" stroke-width="1.6" stroke-linecap="butt"/>
<line x1="450.86" y1="212.07" x2="478.24" y2="212.07" stroke="#000" stroke-width="1.6" stroke-linecap="butt"/>
<line x1="478.24" y1="212.07" x2="505.62" y2="212.07" stroke="#000" stroke-width="1.6" stroke-linecap="butt"/>
<line x1="450.86" y1="212.07" x2="450.86" y2="239.44" stroke="#000" stroke-width="1.6" stroke-linecap="butt"/>
<line x1="454.36" y1="225.75" x2="447.36" y2="225.75" stroke="#000" stroke-width="1.5" stroke-linecap="butt"/>
<line x1="505.62" y1="212.07" x2="505.62" y2="239.44" stroke="#000" stroke-width="1.6" stroke-linecap="butt"/>
<line x1="509.12" y1="225.75" x2="502.12" y2="225.75" stroke="#000" stroke-width="1.5" stroke-linecap="butt"/>
<line x1="450.86" y1="157.33" x2="450.86" y2="184.7" stroke="#000" stroke-width="1.6" stroke-linecap="butt"/>
<line x1="454.36" y1="169.92" x2="447.36" y2="169.92" stroke="#000" stroke-width="1.5" stroke-linecap="butt"/>
<polygon points="450.86,178.1 448.26,173.5 453.46,173.5" fill="#000"/>
<line x1="478.24" y1="157.33" x2="478.24" y2="118.79" stroke="#000" stroke-width="3.2" stroke-linecap="butt"/>
<polygon points="478.24,109.99 483.24,119.79 473.24,119.79" fill="#000"/>
<line x1="450.86" y1="47.85" x2="407.56" y2="91.14" stroke="#000" stroke-width="3.2" stroke-linecap="butt"/>
<polygon points="401.33,97.36 404.73,86.89 411.8,93.97" fill="#000"/>
<line x1="429.79" y1="73.86" x2="424.84" y2="68.91" stroke="#000" stroke-width="1.5" stroke-linecap="butt"/>
<circle cx="505.62" cy="47.85" r="6.85" fill="#98fb98" stroke="#000" stroke-width="1.7"/>
<text transform="translate(505.62 51.2) scale(1.06 1)" font-size="9.5" font-weight="bold" fill="#111" stroke="#111" stroke-width="0.15" text-anchor="middle">3</text>
<circle cx="450.86" cy="102.59" r="6.85" fill="#98fb98" stroke="#000" stroke-width="1.7"/>
<text transform="translate(450.86 105.94) scale(1.06 1)" font-size="9.5" font-weight="bold" fill="#111" stroke="#111" stroke-width="0.15" text-anchor="middle">3</text>
<circle cx="505.62" cy="102.59" r="6.85" fill="#98fb98" stroke="#000" stroke-width="1.7"/>
<text transform="translate(505.62 105.94) scale(1.06 1)" font-size="9.5" font-weight="bold" fill="#111" stroke="#111" stroke-width="0.15" text-anchor="middle">3</text>
<circle cx="560.38" cy="102.59" r="6.85" fill="#98fb98" stroke="#000" stroke-width="1.7"/>
<text transform="translate(560.38 105.94) scale(1.06 1)" font-size="9.5" font-weight="bold" fill="#111" stroke="#111" stroke-width="0.15" text-anchor="middle">3</text>
<circle cx="396.1" cy="129.96" r="6.85" fill="#98fb98" stroke="#000" stroke-width="1.7"/>
<text transform="translate(396.1 133.31) scale(1.06 1)" font-size="9.5" font-weight="bold" fill="#111" stroke="#111" stroke-width="0.15" text-anchor="middle">3</text>
<circle cx="560.38" cy="157.33" r="6.85" fill="#98fb98" stroke="#000" stroke-width="1.7"/>
<text transform="translate(560.38 160.68) scale(1.06 1)" font-size="9.5" font-weight="bold" fill="#111" stroke="#111" stroke-width="0.15" text-anchor="middle">3</text>
<circle cx="396.1" cy="184.7" r="6.85" fill="#98fb98" stroke="#000" stroke-width="1.7"/>
<text transform="translate(396.1 188.05) scale(1.06 1)" font-size="9.5" font-weight="bold" fill="#111" stroke="#111" stroke-width="0.15" text-anchor="middle">3</text>
<circle cx="505.62" cy="184.7" r="6.85" fill="#98fb98" stroke="#000" stroke-width="1.7"/>
<text transform="translate(505.62 188.05) scale(1.06 1)" font-size="9.5" font-weight="bold" fill="#111" stroke="#111" stroke-width="0.15" text-anchor="middle">3</text>
<circle cx="450.86" cy="239.44" r="6.85" fill="#98fb98" stroke="#000" stroke-width="1.7"/>
<text transform="translate(450.86 242.79) scale(1.06 1)" font-size="9.5" font-weight="bold" fill="#111" stroke="#111" stroke-width="0.15" text-anchor="middle">3</text>
<circle cx="505.62" cy="239.44" r="6.85" fill="#98fb98" stroke="#000" stroke-width="1.7"/>
<text transform="translate(505.62 242.79) scale(1.06 1)" font-size="9.5" font-weight="bold" fill="#111" stroke="#111" stroke-width="0.15" text-anchor="middle">3</text>
<circle cx="450.86" cy="47.85" r="6.85" fill="#98fb98" stroke="#000" stroke-width="1.7"/>
<circle cx="450.86" cy="47.85" r="3.5" fill="#000"/>
<line x1="450.86" y1="47.85" x2="445.2" y2="53.51" stroke="#000" stroke-width="3.2" stroke-linecap="butt"/>
<circle cx="450.86" cy="75.22" r="6.85" fill="#fff" stroke="#000" stroke-width="1.7"/>
<circle cx="505.62" cy="75.22" r="6.85" fill="#fff" stroke="#000" stroke-width="1.7"/>
<circle cx="423.48" cy="102.59" r="6.85" fill="#fff" stroke="#000" stroke-width="1.7"/>
<circle cx="533" cy="102.59" r="6.85" fill="#fff" stroke="#000" stroke-width="1.7"/>
<circle cx="423.48" cy="129.96" r="6.85" fill="#fff" stroke="#000" stroke-width="1.7"/>
<circle cx="450.86" cy="129.96" r="6.85" fill="#fff" stroke="#000" stroke-width="1.7"/>
<circle cx="505.62" cy="129.96" r="6.85" fill="#fff" stroke="#000" stroke-width="1.7"/>
<circle cx="533" cy="129.96" r="6.85" fill="#fff" stroke="#000" stroke-width="1.7"/>
<circle cx="423.48" cy="157.33" r="6.85" fill="#fff" stroke="#000" stroke-width="1.7"/>
<circle cx="450.86" cy="157.33" r="6.85" fill="#fff" stroke="#000" stroke-width="1.7"/>
<circle cx="505.62" cy="157.33" r="6.85" fill="#fff" stroke="#000" stroke-width="1.7"/>
<circle cx="533" cy="157.33" r="6.85" fill="#fff" stroke="#000" stroke-width="1.7"/>
<circle cx="423.48" cy="184.7" r="6.85" fill="#fff" stroke="#000" stroke-width="1.7"/>
<circle cx="478.24" cy="184.7" r="6.85" fill="#fff" stroke="#000" stroke-width="1.7"/>
<circle cx="533" cy="184.7" r="6.85" fill="#fff" stroke="#000" stroke-width="1.7"/>
<circle cx="450.86" cy="212.07" r="6.85" fill="#fff" stroke="#000" stroke-width="1.7"/>
<circle cx="478.24" cy="212.07" r="6.85" fill="#fff" stroke="#000" stroke-width="1.7"/>
<circle cx="505.62" cy="212.07" r="6.85" fill="#fff" stroke="#000" stroke-width="1.7"/>
<circle cx="478.24" cy="102.59" r="6.85" fill="#fff" stroke="#000" stroke-width="1.7"/>
<text transform="translate(478.24 105.94) scale(1.06 1)" font-size="9.5" font-weight="bold" fill="#111" stroke="#111" stroke-width="0.15" text-anchor="middle">2</text>
<circle cx="396.1" cy="102.59" r="6.85" fill="#cc99ff" stroke="#000" stroke-width="1.7" stroke-dasharray="3 2.1"/>
<text transform="translate(396.1 105.94) scale(1.06 1)" font-size="9.5" font-weight="bold" fill="#111" stroke="#111" stroke-width="0.15" text-anchor="middle">4</text>
<circle cx="478.24" cy="157.33" r="6.85" fill="#cc99ff" stroke="#000" stroke-width="1.7" stroke-dasharray="3 2.1"/>
<text transform="translate(478.24 160.68) scale(1.06 1)" font-size="9.5" font-weight="bold" fill="#111" stroke="#111" stroke-width="0.15" text-anchor="middle">1</text>
<circle cx="450.86" cy="184.7" r="6.85" fill="#ff0000" stroke="#000" stroke-width="1.7"/>
<text x="463.3" y="50.6" font-size="10.4" font-weight="bold" fill="#333" text-anchor="middle">3</text>
<rect x="492.6" y="14.2" width="67.8" height="12.4" rx="3.6" fill="#fff" stroke="#228b22" stroke-width="1.8"/>
<text x="526.5" y="23.55" font-size="10.4" font-weight="bold" fill="#228b22" stroke="#228b22" stroke-width="0.3" text-anchor="middle" textLength="54" lengthAdjust="spacingAndGlyphs">(3) A casket</text>
</g>
</svg>
</body></html>
